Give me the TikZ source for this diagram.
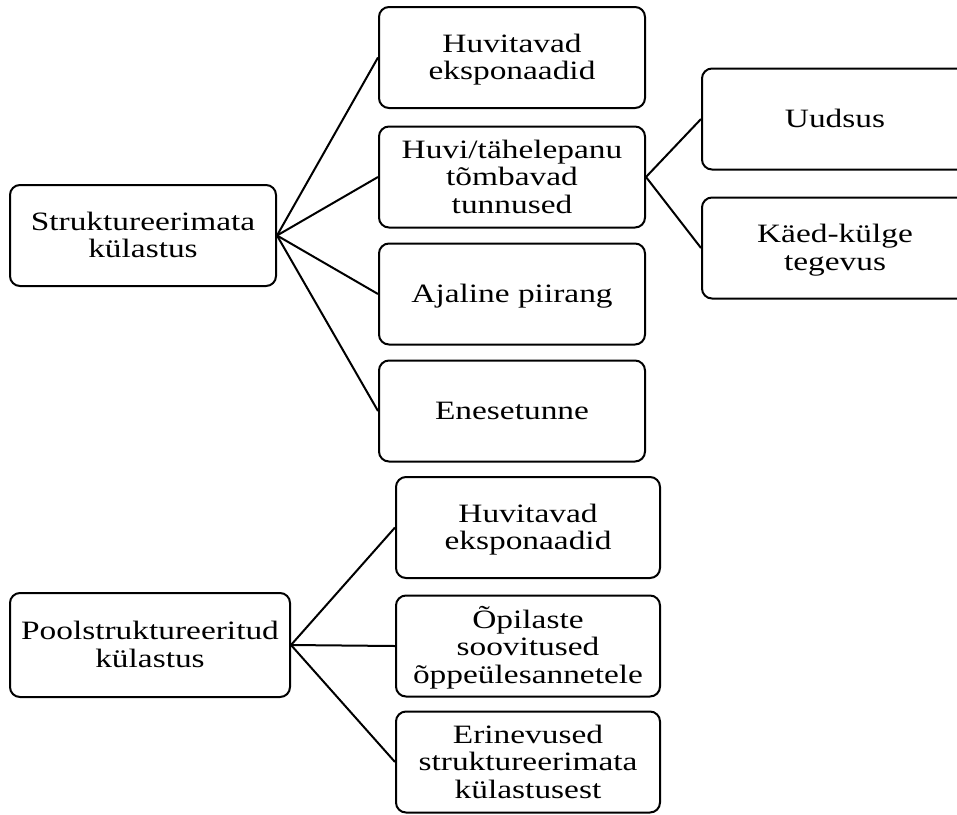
\documentclass[tikz,border=0pt]{standalone}
\usepackage{graphicx}
\usepackage{fontspec}
\setmainfont{Liberation Serif}
\newcommand{\wide}[1]{\raisebox{-3pt}[\height][\depth]{\scalebox{1.26}[1]{\begin{tabular}{@{}c@{}}#1\end{tabular}}}}
\begin{document}
\begin{tikzpicture}[x=1pt, y=-1pt,
    box/.style={draw, line width=2pt, rounded corners=10pt, align=center,
        inner sep=0pt, minimum width=266pt, minimum height=101pt,
        font=\fontsize{26.5}{27.5}\selectfont},
    link/.style={line width=2pt}]
\useasboundingbox (0,0) rectangle (957,814);
\fill[white] (0,0) rectangle (957,814);
% first visit
\node[box] (s) at (143,235.5) {\wide{Struktureerimata\\külastus}};
\foreach \n/\y/\t in {a1/57.5/{Huvitavad\\eksponaadid},
    a2/177/{Huvi/tähelepanu\\tõmbavad\\tunnused},
    a3/294/{Ajaline piirang}, a4/411/{Enesetunne}}
{
    \node[box] (\n) at (512,\y) {\wide{\t}};
    \draw[link] (s.east)--(\n.west);
}
\foreach \n/\y/\t in {b1/119/{Uudsus}, b2/248/{Käed-külge\\tegevus}}
{
    \node[box] (\n) at (835,\y) {\wide{\t}};
    \draw[link] (a2.east)--(\n.west);
}
% second visit
\node[box, minimum width=280pt, minimum height=104pt] (p) at (150,645) {\wide{Poolstruktureeritud\\külastus}};
\foreach \n/\y/\t in {c1/527.5/{Huvitavad\\eksponaadid},
    c2/646/{Õpilaste\\soovitused\\õppeülesannetele},
    c3/762/{Erinevused\\struktureerimata\\külastusest}}
{
    \node[box, minimum width=264pt] (\n) at (528,\y) {\wide{\t}};
    \draw[link] (p.east)--(\n.west);
}
\end{tikzpicture}
\end{document}
